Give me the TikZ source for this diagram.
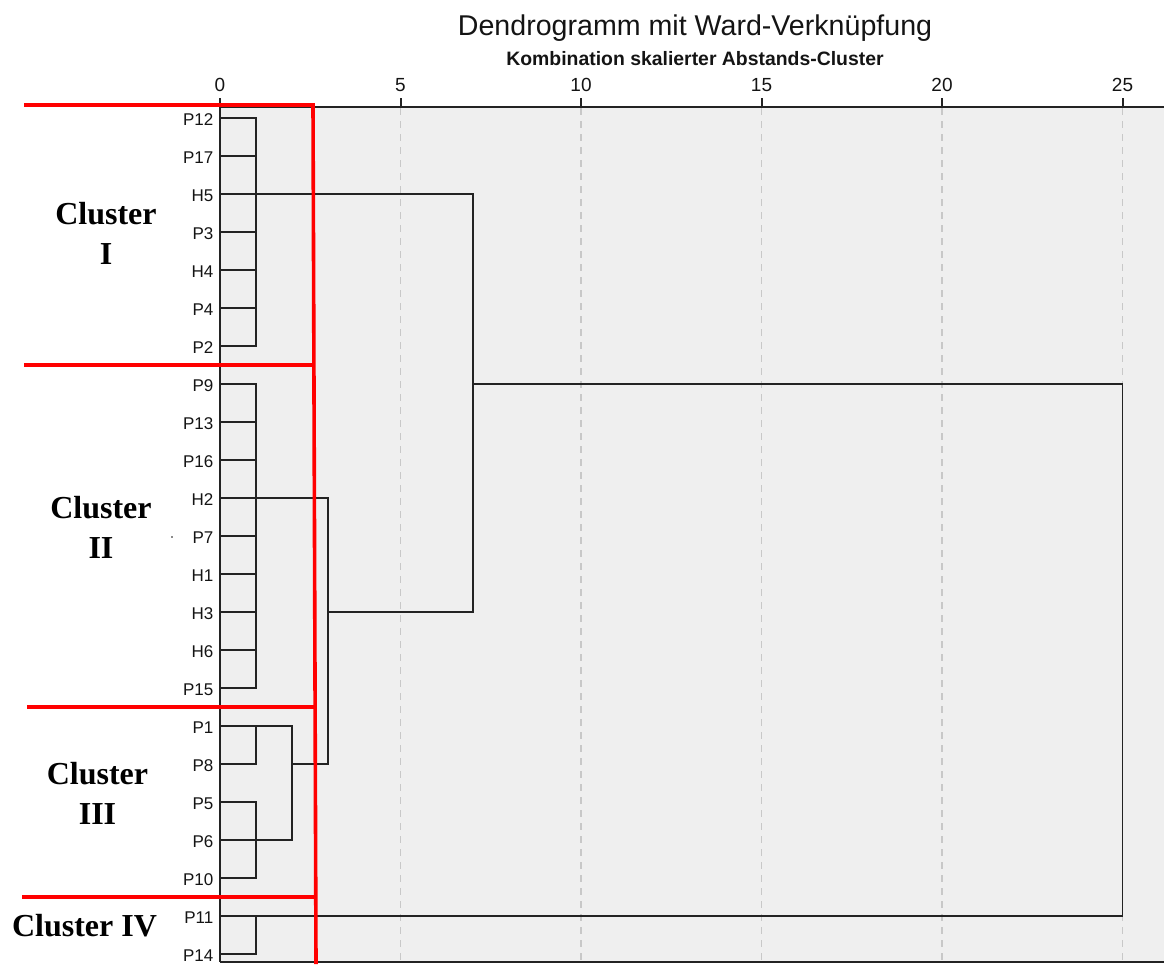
\documentclass[tikz,border=0pt]{standalone}
\usepackage{fontspec}
\setmainfont{Liberation Sans}
\newfontfamily\clusterfont{Liberation Serif}
\definecolor{plotbg}{RGB}{239,239,239}
\definecolor{linkcol}{RGB}{35,35,35}
\definecolor{gridcol}{RGB}{200,200,200}
\definecolor{textcol}{RGB}{20,20,20}
\definecolor{markred}{RGB}{255,0,0}
\begin{document}
\begin{tikzpicture}[x=1pt,y=-1pt,
  link/.style={draw=linkcol,line width=1.8pt,line join=miter},
  axisline/.style={draw=linkcol,line width=2pt},
  gridline/.style={draw=gridcol,line width=1.1pt,dash pattern=on 7pt off 6pt},
  redline/.style={draw=markred,line width=3.6pt,line join=miter},
  leaflabel/.style={anchor=east,inner sep=0pt,text=textcol,font=\fontsize{17}{17}\selectfont},
  ticklabel/.style={inner sep=0pt,text=textcol,font=\fontsize{19}{19}\selectfont},
  clusterlabel/.style={inner sep=0pt,align=center,font=\clusterfont\bfseries\fontsize{32}{40}\selectfont}]
\useasboundingbox (0,0) rectangle (1164,964);

% plot area
\fill[plotbg] (220,107) rectangle (1164,962);

% dashed grid at 5, 10, 15, 20, 25
\foreach \v in {5,10,15,20,25}
  \draw[gridline] ({220+36.1*\v},108) -- ({220+36.1*\v},961);

% title and subtitle
\node[inner sep=0pt,text=textcol,font=\fontsize{28.6}{30}\selectfont] (title) at (695,28) {Dendrogramm mit Ward-Verknüpfung};
\node[inner sep=0pt,text=textcol,font=\bfseries\fontsize{19.4}{20}\selectfont] (subtitle) at (695,59) {Kombination skalierter Abstands-Cluster};

% axis with ticks and labels
\draw[axisline] (220,107) -- (1164,107);
\draw[axisline] (220,962) -- (1164,962);
\foreach \v in {0,5,10,15,20,25} {
  \draw[axisline] ({220+36.1*\v},98) -- ({220+36.1*\v},107);
  \node[ticklabel] (tick\v) at ({220+36.1*\v},85) {\v};
}

% leaves
\foreach \n [count=\i from 0] in {P12,P17,H5,P3,H4,P4,P2,P9,P13,P16,H2,P7,H1,H3,H6,P15,P1,P8,P5,P6,P10,P11,P14} {
  \coordinate (\n) at (220,{118+38*\i});
  \node[leaflabel] (lab\n) at (213.5,{119.5+38*\i}) {\n};
}

% merge levels
\coordinate (k1) at (256.1,0);
\coordinate (k2) at (292.2,0);
\coordinate (k3) at (328.3,0);
\coordinate (k7) at (472.7,0);
\coordinate (k25) at (1122.5,0);

% cluster I
\draw[link] (P12) -| (k1 |- P2) -- (P2);
\foreach \n in {P17,H5,P3,H4,P4} \draw[link] (\n) -- (\n -| k1);
% cluster II
\draw[link] (P9) -| (k1 |- P15) -- (P15);
\foreach \n in {P13,P16,H2,P7,H1,H3,H6} \draw[link] (\n) -- (\n -| k1);
% cluster III
\draw[link] (P1) -| (k1 |- P8) -- (P8);
\draw[link] (P5) -| (k1 |- P10) -- (P10);
\draw[link] (P6) -- (P6 -| k1);
\draw[link] (P1 -| k1) -| (k2 |- P6) -- (P6 -| k1);
% cluster IV
\draw[link] (P14) -| (k1 |- P11);
% higher merges
\draw[link] (H2 -| k1) -| (k3 |- P8) -- (P8 -| k2);
\draw[link] (H5 -| k1) -| (k7 |- H3) -- (H3 -| k3);
\draw[link] (P9 -| k7) -| (k25 |- P11) -- (P11);

% left axis
\draw[axisline] (220,107) -- (220,962);

% red cluster boundaries
\draw[redline] (24,105) -- (313,105) -- (316,964);
\draw[redline] (24,365) -- (314,365);
\draw[redline] (27,707) -- (315.5,707);
\draw[redline] (22,897) -- (315.5,897);

% cluster names
\node[clusterlabel] (c1) at (106,233) {Cluster\\I};
\node[clusterlabel] (c2) at (101,527) {Cluster\\II};
\node[clusterlabel] (c3) at (97.5,793) {Cluster\\III};
\node[clusterlabel] (c4) at (84.5,926) {Cluster IV};

\fill[textcol] (172,537) circle (0.9);
\end{tikzpicture}
\end{document}
